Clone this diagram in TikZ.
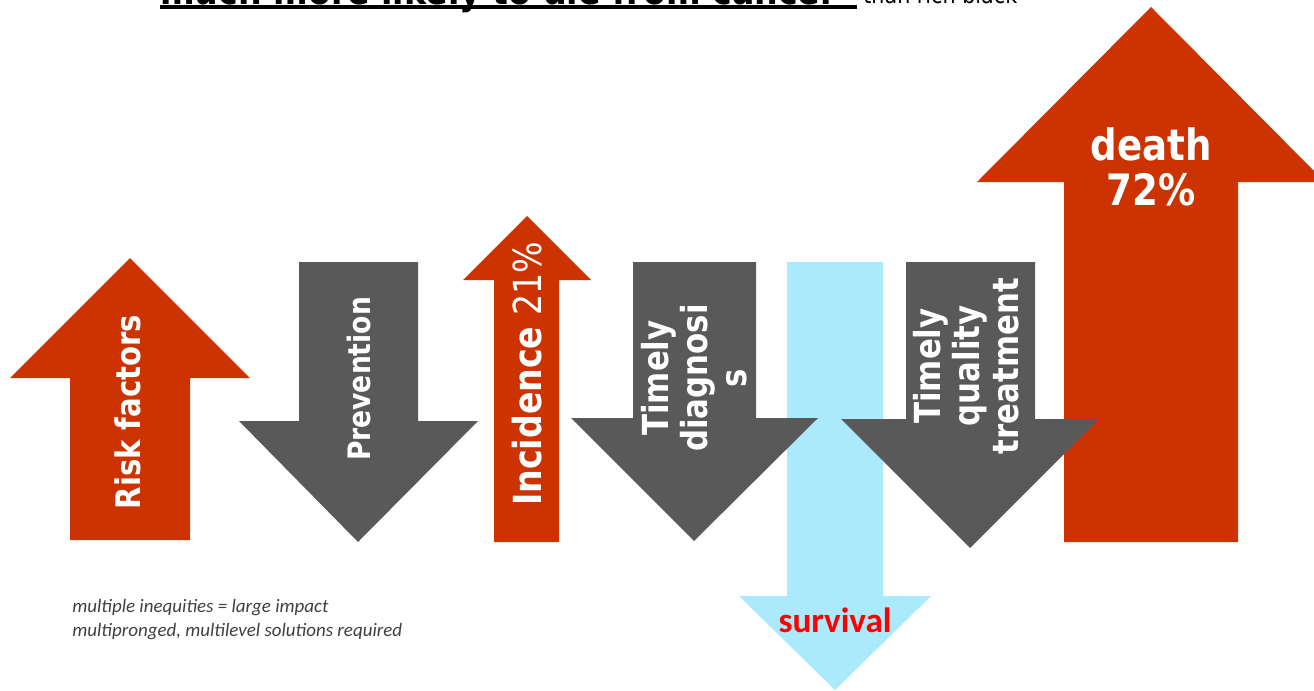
\documentclass[tikz,border=0pt]{standalone}
\usepackage{fontspec}
\newfontfamily\arrowfont[FakeStretch=0.86]{DejaVu Sans}
\newfontfamily\notefont{Carlito}
\definecolor{riskred}{HTML}{CC3300}
\definecolor{caregrey}{HTML}{595959}
\definecolor{survivalblue}{HTML}{ABE9FC}
\definecolor{notegrey}{HTML}{404040}
\tikzset{
  uparrow/.style={fill=riskred},
  downarrow/.style={fill=caregrey},
  arrowlabel/.style={text=white, rotate=90, align=center, inner sep=0pt},
}
\begin{document}
\begin{tikzpicture}[x=0.02cm, y=-0.02cm]
        \useasboundingbox (0,0) rectangle (1314,690);

        \fill[uparrow] (1064,542) -- (1064,182) -- (977,182) -- (1151,7) -- (1325,182) -- (1238,182) -- (1238,542) -- cycle;
        \fill[fill=survivalblue] (787,262) -- (883,262) -- (883,596) -- (931,596) -- (835,690) -- (739,596) -- (787,596) -- cycle;

        \fill[uparrow] (70,540) -- (70,378) -- (10,378) -- (130,258) -- (250,378) -- (190,378) -- (190,540) -- cycle;
        \fill[downarrow] (299,262) -- (418,262) -- (418,421) -- (478,421) -- (358,542) -- (239,421) -- (299,421) -- cycle;
        \fill[uparrow] (494,542) -- (494,280) -- (463,280) -- (527,216) -- (591,280) -- (559,280) -- (559,542) -- cycle;
        \fill[downarrow] (633,262) -- (756,262) -- (756,418) -- (818,418) -- (694,541) -- (571,418) -- (633,418) -- cycle;
        \fill[downarrow] (906,262) -- (1035,262) -- (1035,419) -- (1099,419) -- (970,548) -- (841,419) -- (906,419) -- cycle;

        \node[arrowlabel, font=\arrowfont\bfseries\fontsize{19.3pt}{24pt}\selectfont] (risk) at (128,412) {Risk factors};
        \node[arrowlabel, font=\arrowfont\bfseries\fontsize{17.6pt}{22pt}\selectfont] (prevention) at (359,379) {Prevention};
        \node[arrowlabel, font=\arrowfont\fontsize{22pt}{26pt}\selectfont] (incidence) at (527,374) {\bfseries Incidence\mdseries{} 21\%};
        \node[arrowlabel, font=\arrowfont\bfseries\fontsize{20.4pt}{22.2pt}\selectfont] (diagnosis) at (694,378) {Timely\\diagnosi\\s};
        \node[arrowlabel, font=\arrowfont\bfseries\fontsize{20.4pt}{22.2pt}\selectfont] (treatment) at (966,366) {Timely\\quality\\treatment};
        \node[text=white, align=center, inner sep=0pt, font=\arrowfont\bfseries\fontsize{24.6pt}{25.6pt}\selectfont] (death) at (1151,167) {death\\72\%};
        \node[text=red, anchor=base, inner sep=0pt, font=\notefont\bfseries\fontsize{20pt}{24pt}\selectfont] (survival) at (835,632) {survival};

        \node[text=notegrey, anchor=base west, align=left, inner sep=0pt, font=\notefont\itshape\fontsize{10.8pt}{13.2pt}\selectfont] (impact) at (72,636) {multiple inequities = large impact\\multipronged, multilevel solutions required};

        \node[anchor=base west, inner sep=0pt, font=\arrowfont\bfseries\fontsize{22pt}{26pt}\selectfont] (headline) at (160,4) {much more likely to die from cancer};
        \fill (160,4.5) rectangle (857,9);
        \node[anchor=base west, inner sep=0pt, font=\arrowfont\fontsize{13.7pt}{16pt}\selectfont] (headnote) at (863,3) {than rich black};
\end{tikzpicture}
\end{document}
